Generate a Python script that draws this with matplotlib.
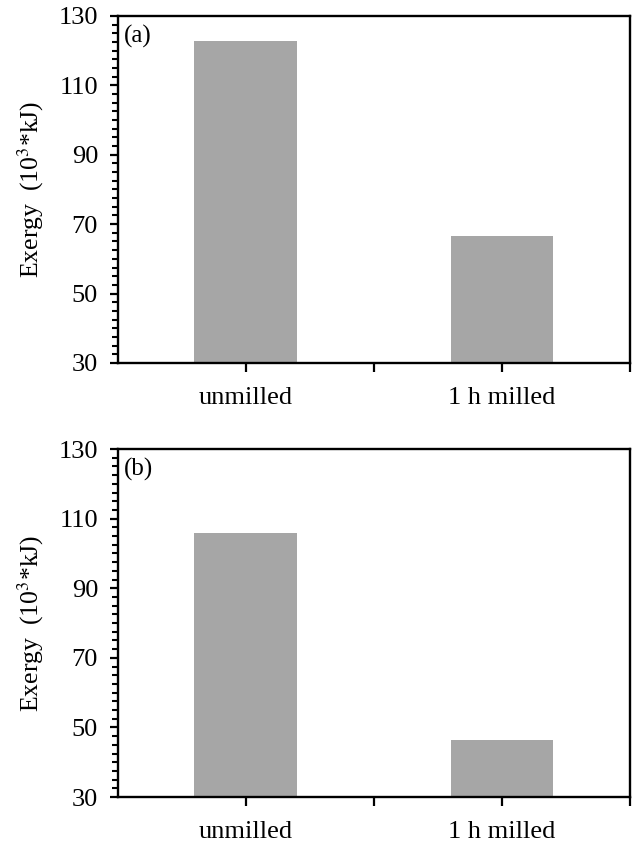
import matplotlib
matplotlib.use("Agg")
import matplotlib.pyplot as plt
from matplotlib.ticker import MultipleLocator, FixedLocator

# data
categories = ["unmilled", "1 h milled"]
exergy_a = [122.7, 66.7]
exergy_b = [105.8, 46.4]
panel_tags = ["(a)", "(b)"]
y_ticks = [30, 50, 70, 90, 110, 130]

plt.rcParams['font.family'] = ['Liberation Serif', 'DejaVu Serif']
plt.rcParams['mathtext.fontset'] = 'stix'

fig = plt.figure(figsize=(6.32, 8.42), dpi=100)
ax_a = fig.add_axes([0.186, 0.569, 0.811, 0.412])
ax_b = fig.add_axes([0.186, 0.0534, 0.811, 0.4133])

bar_color = "#a6a6a6"

for ax, vals, tag in zip([ax_a, ax_b], [exergy_a, exergy_b], panel_tags):
    xs = list(range(len(categories)))
    ax.bar(xs, [v - 30 for v in vals], bottom=30, width=0.4, color=bar_color, zorder=2)
    ax.set_xlim(-0.5, len(categories) - 0.5)
    ax.set_ylim(30, 130)

    ax.set_yticks(y_ticks)
    ax.yaxis.set_minor_locator(MultipleLocator(2.5))
    ax.tick_params(axis='y', which='major', direction='out', length=6, width=1.6,
                   labelsize=19, pad=8)
    ax.tick_params(axis='y', which='minor', direction='out', length=4, width=1.5)

    # category ticks at centers and between categories
    ax.xaxis.set_major_locator(FixedLocator([0, 0.5, 1, 1.5]))
    ax.set_xticklabels([categories[0], "", categories[1], ""])
    ax.tick_params(axis='x', which='major', direction='out', length=6.5, width=1.6,
                   labelsize=19, pad=11)

    for s in ax.spines.values():
        s.set_linewidth(1.7)

    ax.set_ylabel("Exergy  (10$^3$*kJ)", fontsize=18.5, labelpad=9)
    ax.text(0.012, 0.975, tag, transform=ax.transAxes, va='top', ha='left', fontsize=18)

fig.savefig("out.png", dpi=100)
